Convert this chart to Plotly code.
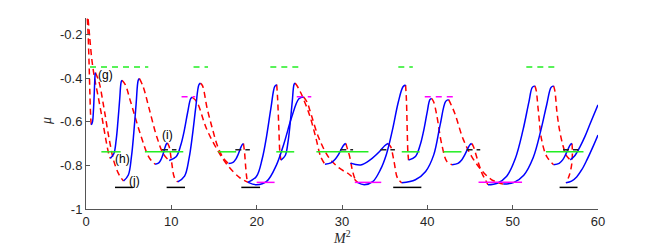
import plotly.graph_objects as go

# ---- data ----
# blue solid branches: (x list, mu list)
blue_curves = [
    ([0.62, 0.764, 0.86, 0.932, 1.004, 1.062, 1.10], [-0.615, -0.601, -0.557, -0.502, -0.433, -0.387, -0.375]),
    ([2.85, 3.26, 3.54, 3.74, 3.95, 4.12, 4.22], [-0.768, -0.747, -0.682, -0.600, -0.496, -0.418, -0.41]),
    ([4.40, 4.96, 5.33, 5.60, 5.88, 6.12, 6.25], [-0.872, -0.844, -0.759, -0.651, -0.515, -0.41, -0.402]),
    ([8.10, 8.53, 8.82, 9.03, 9.24, 9.42, 9.53], [-0.795, -0.789, -0.771, -0.749, -0.720, -0.702, -0.697]),
    ([9.75, 10.56, 11.10, 11.51, 11.91, 12.27, 12.45], [-0.778, -0.761, -0.708, -0.642, -0.558, -0.494, -0.488]),
    ([10.75, 11.55, 12.08, 12.47, 12.87, 13.22, 13.40], [-0.876, -0.849, -0.767, -0.663, -0.532, -0.432, -0.423]),
    ([16.70, 17.23, 17.58, 17.84, 18.10, 18.31, 18.45], [-0.792, -0.786, -0.770, -0.749, -0.722, -0.705, -0.700]),
    ([18.95, 19.97, 20.65, 21.16, 21.67, 22.12, 22.35], [-0.878, -0.851, -0.770, -0.667, -0.538, -0.438, -0.430]),
    ([19.0, 20.0, 21.2, 22.3, 23.2, 24.1, 24.95, 25.5], [-0.878, -0.889, -0.872, -0.80, -0.70, -0.58, -0.495, -0.487]),
    ([22.85, 23.35, 23.68, 23.92, 24.17, 24.38, 24.50], [-0.776, -0.755, -0.691, -0.610, -0.508, -0.43, -0.423]),
    ([28.0, 28.7, 29.2, 29.6, 29.95, 30.25, 30.45], [-0.795, -0.789, -0.772, -0.750, -0.723, -0.705, -0.700]),
    ([31.8, 32.6, 33.6, 34.5, 35.2, 35.9, 36.6, 37.15, 37.45], [-0.878, -0.889, -0.875, -0.82, -0.75, -0.64, -0.51, -0.44, -0.432]),
    ([31.0, 32.2, 33.3, 34.4, 35.0, 35.4], [-0.79, -0.798, -0.775, -0.737, -0.71, -0.70]),
    ([37.0, 38.6, 39.8, 40.75, 41.5, 42.15, 42.5], [-0.880, -0.866, -0.828, -0.752, -0.615, -0.507, -0.499]),
    ([37.8, 38.61, 39.15, 39.56, 39.96, 40.3, 40.5], [-0.776, -0.759, -0.708, -0.643, -0.561, -0.499, -0.493]),
    ([42.9, 43.59, 44.05, 44.40, 44.74, 45.02, 45.2], [-0.797, -0.791, -0.774, -0.751, -0.723, -0.705, -0.700]),
    ([47.1, 48.2, 49.3, 50.3, 51.2, 51.9, 52.3, 52.6], [-0.889, -0.882, -0.85, -0.77, -0.64, -0.51, -0.443, -0.436]),
    ([48.9, 50.1, 51.3, 52.4, 53.3, 54.0, 54.5, 54.8], [-0.886, -0.879, -0.845, -0.765, -0.64, -0.52, -0.443, -0.436]),
    ([54.8, 55.45, 55.88, 56.20, 56.52, 56.78, 56.95], [-0.797, -0.791, -0.774, -0.751, -0.723, -0.705, -0.700]),
    ([56.75, 57.3, 57.9, 58.5, 59.1, 60.0], [-0.775, -0.755, -0.714, -0.665, -0.607, -0.523]),
    ([56.25, 56.9, 57.5, 58.1, 58.7, 59.35, 60.0], [-0.88, -0.872, -0.853, -0.82, -0.775, -0.72, -0.661]),
]

# red dashed branches
red_curves = [
    ([0.15, 0.25, 0.35, 0.45, 0.55, 0.62], [-0.128, -0.20, -0.32, -0.46, -0.58, -0.615]),
    ([0.25, 0.45, 0.7, 1.0, 1.4, 1.85, 2.3, 2.65, 2.85], [-0.13, -0.22, -0.32, -0.40, -0.48, -0.575, -0.676, -0.745, -0.768]),
    ([1.10, 1.52, 2.11, 2.7, 3.28, 3.87, 4.40], [-0.375, -0.417, -0.539, -0.676, -0.783, -0.843, -0.872]),
    ([4.22, 4.6, 5.24, 6.4, 7.4, 8.1], [-0.41, -0.43, -0.51, -0.66, -0.765, -0.795]),
    ([6.25, 6.7, 7.4, 8.3, 9.1, 9.75], [-0.402, -0.44, -0.54, -0.67, -0.75, -0.778]),
    ([9.53, 9.75, 10.05, 10.35, 10.75], [-0.697, -0.715, -0.79, -0.855, -0.876]),
    ([13.4, 13.65, 14.2, 14.8, 15.4, 16.1, 16.7], [-0.423, -0.435, -0.54, -0.63, -0.71, -0.767, -0.792]),
    ([12.45, 13.0, 14.1, 15.4, 16.6, 18.0, 19.0], [-0.488, -0.51, -0.63, -0.73, -0.80, -0.856, -0.878]),
    ([18.45, 18.58, 18.72, 18.85, 18.95], [-0.70, -0.74, -0.81, -0.86, -0.878]),
    ([22.35, 22.45, 22.6, 22.72, 22.85], [-0.43, -0.49, -0.63, -0.74, -0.776]),
    ([24.5, 24.8, 25.2, 26.2, 26.95, 27.5, 28.0], [-0.423, -0.44, -0.47, -0.57, -0.676, -0.76, -0.795]),
    ([25.5, 25.9, 26.4, 27.3, 28.5, 29.7, 30.9, 31.8], [-0.487, -0.51, -0.569, -0.676, -0.767, -0.813, -0.843, -0.878]),
    ([30.45, 30.6, 30.9, 31.2, 31.5, 31.8], [-0.70, -0.72, -0.76, -0.82, -0.86, -0.878]),
    ([37.45, 37.55, 37.65, 37.72, 37.8], [-0.432, -0.50, -0.65, -0.74, -0.776]),
    ([35.4, 35.7, 36.1, 36.5, 37.0], [-0.70, -0.714, -0.783, -0.858, -0.88]),
    ([40.5, 40.75, 41.1, 41.7, 42.3, 42.9], [-0.493, -0.51, -0.57, -0.706, -0.783, -0.797]),
    ([42.5, 43.2, 44.2, 45.2, 46.3, 47.5, 48.9], [-0.499, -0.56, -0.68, -0.76, -0.82, -0.865, -0.886]),
    ([45.2, 45.4, 46.0, 46.4, 46.8, 47.1], [-0.70, -0.714, -0.79, -0.836, -0.866, -0.889]),
    ([52.6, 52.75, 53.0, 53.4, 54.0, 54.8], [-0.436, -0.455, -0.547, -0.684, -0.76, -0.797]),
    ([54.8, 54.95, 55.2, 55.5, 55.9, 56.3, 56.75], [-0.436, -0.46, -0.56, -0.64, -0.71, -0.755, -0.775]),
    ([56.95, 57.0, 56.9, 56.6, 56.25], [-0.70, -0.74, -0.80, -0.85, -0.88]),
]

# horizontal reference levels and their x extents
green_dashed_mu = -0.349
green_dashed_spans = [(0.47, 7.3), (12.6, 14.3), (21.6, 25.4), (36.6, 38.3), (51.6, 55.2)]
green_solid_mu = -0.738
green_solid_spans = [(1.8, 4.06), (6.9, 11.4), (15.5, 17.6), (22.3, 24.4), (27.0, 33.1),
                     (37.0, 39.1), (41.9, 44.0), (53.9, 58.3)]
black_dashed_mu = -0.729
black_dashed_spans = [(8.9, 10.6), (17.5, 19.2), (29.8, 31.3), (34.5, 36.2), (44.6, 46.2), (55.9, 57.7)]
black_solid_mu = -0.901
black_solid_spans = [(3.4, 5.5), (9.45, 11.6), (18.2, 20.4), (36.0, 39.3), (55.5, 57.6)]
magenta_dashed_mu = -0.486
magenta_dashed_spans = [(11.2, 12.8), (24.7, 26.4), (39.7, 43.4)]
magenta_solid_mu = -0.878
magenta_solid_spans = [(20.0, 22.1), (31.5, 34.6), (46.0, 51.1)]

labels = ["(g)", "(h)", "(i)", "(j)"]
label_x = [2.3, 4.22, 9.6, 5.74]
label_mu = [-0.385, -0.772, -0.661, -0.871]

x_ticks = [0, 10, 20, 30, 40, 50, 60]
y_ticks = [-1, -0.8, -0.6, -0.4, -0.2]
y_tick_text = ["-1", "-0.8", "-0.6", "-0.4", "-0.2"]

# ---- figure ----
fig = go.Figure()

for xs, ys in red_curves:
    fig.add_trace(go.Scatter(x=xs, y=ys, mode="lines",
                             line=dict(color="#ff0000", width=1.5, dash="6px,4px", shape="spline"),
                             hoverinfo="skip"))
for xs, ys in blue_curves:
    fig.add_trace(go.Scatter(x=xs, y=ys, mode="lines",
                             line=dict(color="#0000ff", width=1.5, shape="spline"),
                             hoverinfo="skip"))


def add_segments(spans, mu, color, dash):
    xs, ys = [], []
    for a, b in spans:
        xs += [a, b, None]
        ys += [mu, mu, None]
    fig.add_trace(go.Scatter(x=xs, y=ys, mode="lines",
                             line=dict(color=color, width=1.5, dash=dash),
                             hoverinfo="skip"))


add_segments(green_solid_spans, green_solid_mu, "#22ee22", "solid")
add_segments(green_dashed_spans, green_dashed_mu, "#22ee22", "6px,5px")
add_segments(black_solid_spans, black_solid_mu, "#000000", "solid")
add_segments(black_dashed_spans, black_dashed_mu, "#222222", "6px,4px")
add_segments(magenta_solid_spans, magenta_solid_mu, "#ff00ff", "solid")
add_segments(magenta_dashed_spans, magenta_dashed_mu, "#ff00ff", "6px,5px")

for t, x, y in zip(labels, label_x, label_mu):
    fig.add_annotation(x=x, y=y, text=t, showarrow=False, xanchor="center", yanchor="middle",
                       font=dict(family="Liberation Sans, Arial, sans-serif", size=12, color="#000000"))

fig.add_annotation(xref="paper", yref="paper", x=0.5, y=-0.147, text="<i>M</i><sup>2</sup>",
                   showarrow=False, xanchor="center", yanchor="middle",
                   font=dict(family="Liberation Serif, Times New Roman, serif", size=14, color="#262626"))
fig.add_annotation(xref="paper", yref="paper", x=-0.076, y=0.461, text="<i>μ</i>", textangle=-90,
                   showarrow=False, xanchor="center", yanchor="middle",
                   font=dict(family="Liberation Serif, Times New Roman, serif", size=14, color="#262626"))

axis_font = dict(family="Liberation Sans, Arial, sans-serif", size=13, color="#262626")
# page body has an 8px default margin, so the figure is sized/offset to compensate
fig.update_layout(
    width=653, height=240,
    margin=dict(l=78, r=63, t=10, b=39),
    plot_bgcolor="white", paper_bgcolor="white",
    showlegend=False,
    xaxis=dict(range=[0, 60], tickvals=x_ticks, ticks="inside", ticklen=4, tickcolor="#555555",
               showline=True, linecolor="#555555", linewidth=1, showgrid=False, zeroline=False,
               tickfont=axis_font),
    yaxis=dict(range=[-1, -0.125], tickvals=y_ticks, ticktext=y_tick_text, ticks="inside", ticklen=4,
               tickcolor="#555555", showline=True, linecolor="#555555", linewidth=1, showgrid=False,
               zeroline=False, tickfont=axis_font),
)

fig.write_html("out.html")
